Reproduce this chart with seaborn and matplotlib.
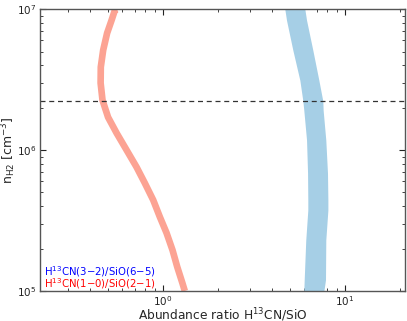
import numpy as np
import matplotlib
matplotlib.use("Agg")
import matplotlib.pyplot as plt
import seaborn as sns

# Datos
dens_red = [1.0e7, 9.84e6, 8.36e6, 6.76e6, 5.12e6, 3.88e6, 2.99e6, 2.26e6,
            1.71e6, 1.32e6, 1.0e6, 7.57e5, 5.83e5, 4.42e5, 3.35e5, 2.58e5,
            1.95e5, 1.48e5, 1.14e5, 1.0e5]
ratio_red = [0.56, 0.545, 0.523, 0.494, 0.470, 0.456, 0.455, 0.466,
             0.500, 0.557, 0.632, 0.717, 0.796, 0.885, 0.963, 1.048,
             1.13, 1.20, 1.28, 1.32]

dens_blue = [1.0e7, 8.36e6, 5.12e6, 3.13e6, 2.23e6, 1.92e6, 1.18e6, 6.87e5,
             4.42e5, 3.75e5, 2.30e5, 1.20e5, 1.0e5]
ratio_blue_lo = [4.68, 4.78, 5.18, 5.66, 5.88, 5.95, 6.16, 6.24, 6.26, 6.26,
                 6.10, 5.98, 5.95]
ratio_blue_hi = [6.03, 6.16, 6.67, 7.20, 7.57, 7.60, 7.86, 8.03, 8.07, 8.07,
                 7.86, 7.83, 7.67]

n_ref = 2.23e6
xlims = (0.211, 21.4)
ylims = (1e5, 1e7)

sns.set_style("ticks")
plt.rcParams["font.family"] = ["DejaVu Sans"]
plt.rcParams["font.size"] = 8
plt.rcParams["mathtext.fontset"] = "cm"
plt.rcParams["mathtext.default"] = "regular"

fig = plt.figure(figsize=(4.07, 3.21), dpi=100)
ax = fig.add_axes([0.098, 0.0935, 0.897, 0.878])

ax.fill_betweenx(dens_blue, ratio_blue_lo, ratio_blue_hi, color="#a6cfe6",
                 linewidth=0)
ax.plot(ratio_red, dens_red, color="#fca393", linewidth=4.8,
        solid_capstyle="butt")
ax.axhline(n_ref, color="#333333", linestyle="--", linewidth=0.9,
           dashes=(4, 3))

ax.set_xscale("log")
ax.set_yscale("log")
ax.set_xlim(*xlims)
ax.set_ylim(*ylims)

ax.set_xlabel("Abundance ratio H$^{13}$CN/SiO", fontsize=8.8)
ax.set_ylabel("n$_{H2}$ [cm$^{-3}$]", fontsize=9)
ax.xaxis.set_label_coords(0.5, -0.056)
ax.yaxis.set_label_coords(-0.06, 0.5)

ax.tick_params(which="both", direction="in", top=True, right=True,
               labelsize=7.5, colors="#222222", pad=2.5)
ax.tick_params(which="major", length=4)
ax.tick_params(which="minor", length=2)
for s in ax.spines.values():
    s.set_color("#555555")
    s.set_linewidth(1.0)

ax.text(0.01, 0.056, "H$^{13}$CN$(3{-}2)$/SiO$(6{-}5)$", color="blue",
        transform=ax.transAxes, fontsize=7.3)
ax.text(0.01, 0.014, "H$^{13}$CN$(1{-}0)$/SiO$(2{-}1)$", color="red",
        transform=ax.transAxes, fontsize=7.3)

fig.savefig("out.png", dpi=100)
